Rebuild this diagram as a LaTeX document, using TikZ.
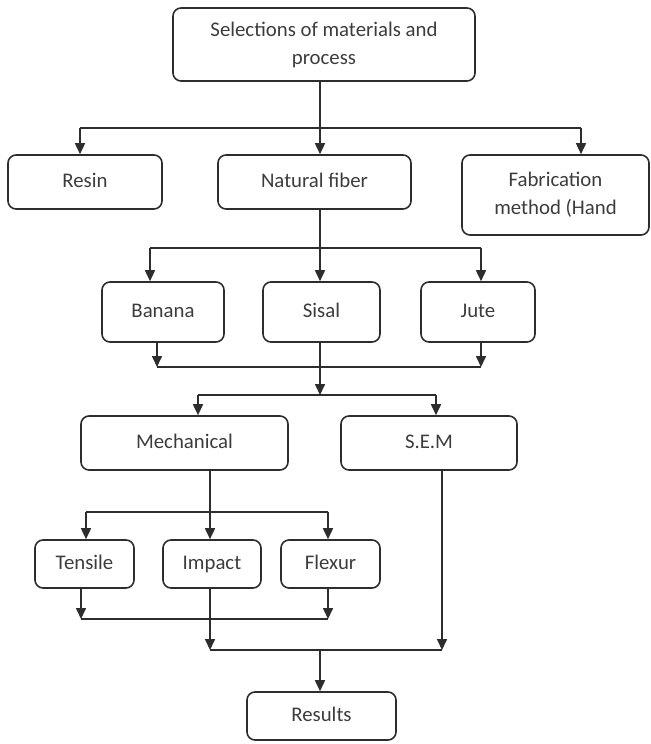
\documentclass[tikz,border=0pt]{standalone}
\usepackage{fontspec}
\setmainfont{Carlito}
\usetikzlibrary{positioning,arrows.meta,calc}
\definecolor{flowLine}{RGB}{45,45,45}
\definecolor{flowText}{RGB}{60,60,60}

\begin{document}
\begin{tikzpicture}[x=0.5pt,y=-0.5pt,font=\fontsize{10.4}{14}\selectfont,
  n/.style={draw=flowLine,line width=0.8pt,rounded corners=4pt,align=center,text=flowText,inner sep=0pt},
  n1/.style={n,text height=1.6ex,text depth=0.45ex},
  ar/.style={-{Triangle[length=5.5pt,width=5pt]},flowLine,line width=0.8pt},
  ln/.style={flowLine,line width=0.8pt}]
\useasboundingbox (0,0) rectangle (650,744);
% boxes
\node[n,minimum width=151pt,minimum height=36.5pt] (sel) at (324,44.5) {Selections of materials and\\process};
\node[n1,minimum width=77pt,minimum height=27pt] (resin) at (85,182) {Resin};
\node[n1,minimum width=96.5pt,minimum height=27pt] (fiber) at (314.5,182) {Natural fiber};
\node[n,minimum width=93.5pt,minimum height=40pt] (fab) at (555.5,195) {Fabrication\\method (Hand};
\node[n1,minimum width=61pt,minimum height=30pt] (banana) at (163,312) {Banana};
\node[n1,minimum width=58.5pt,minimum height=30pt] (sisal) at (321.5,312) {Sisal};
\node[n1,minimum width=57pt,minimum height=30pt] (jute) at (478,312) {Jute};
\node[n1,minimum width=103.5pt,minimum height=27pt] (mech) at (184.5,443) {Mechanical};
\node[n1,minimum width=88pt,minimum height=27pt] (sem) at (429,443) {S.E.M};
\node[n1,minimum width=49.5pt,minimum height=24pt] (tensile) at (84.5,564) {Tensile};
\node[n1,minimum width=49pt,minimum height=24pt] (impact) at (212,564) {Impact};
\node[n1,minimum width=49.5pt,minimum height=24pt] (flexur) at (330.5,564) {Flexur};
\node[n1,minimum width=74.5pt,minimum height=24pt] (results) at (321.5,716) {Results};
% junctions
\coordinate (t1) at (320,128); \coordinate (t1l) at (80,128); \coordinate (t1r) at (581,128);
\coordinate (t2) at (320,248); \coordinate (t2l) at (150,248); \coordinate (t2r) at (481,248);
\coordinate (m1l) at (157,367); \coordinate (m1r) at (481,367);
\coordinate (t3) at (320,395); \coordinate (t3l) at (198,395); \coordinate (t3r) at (436,395);
\coordinate (t4) at (210,512); \coordinate (t4l) at (86,512); \coordinate (t4r) at (328,512);
\coordinate (m2l) at (81,619); \coordinate (m2r) at (328,619);
\coordinate (m3) at (320,650); \coordinate (m3l) at (210,650); \coordinate (m3r) at (442,650);
% connectors
\draw[ar] (sel.south -| t1) -- (fiber.north -| t1);
\draw[ln] (t1l) -- (t1r);
\draw[ar] (t1l) -- (resin.north -| t1l);
\draw[ar] (t1r) -- (fab.north -| t1r);
\draw[ln] (fiber.south -| t2) -- (t2);
\draw[ln] (t2l) -- (t2r);
\draw[ar] (t2l) -- (banana.north -| t2l);
\draw[ar] (t2) -- (sisal.north -| t2);
\draw[ar] (t2r) -- (jute.north -| t2r);
\draw[ar] (banana.south -| m1l) -- (m1l);
\draw[ar] (jute.south -| m1r) -- (m1r);
\draw[ln] (m1l) -- (m1r);
\draw[ar] (sisal.south -| t3) -- (t3);
\draw[ln] (t3l) -- (t3r);
\draw[ar] (t3l) -- (mech.north -| t3l);
\draw[ar] (t3r) -- (sem.north -| t3r);
\draw[ar] (mech.south -| t4) -- (impact.north -| t4);
\draw[ln] (t4l) -- (t4r);
\draw[ar] (t4l) -- (tensile.north -| t4l);
\draw[ar] (t4r) -- (flexur.north -| t4r);
\draw[ar] (tensile.south -| m2l) -- (m2l);
\draw[ar] (flexur.south -| m2r) -- (m2r);
\draw[ln] (m2l) -- (m2r);
\draw[ar] (impact.south -| m3l) -- (m3l);
\draw[ar] (sem.south -| m3r) -- (m3r);
\draw[ln] (m3l) -- (m3r);
\draw[ar] (m3) -- (results.north -| m3);
\end{tikzpicture}
\end{document}
